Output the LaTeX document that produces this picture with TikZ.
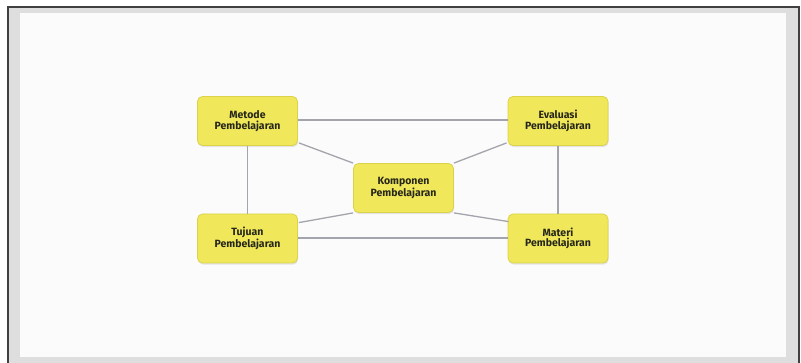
\documentclass[tikz,border=0pt]{standalone}
\usepackage{fontspec}
\setmainfont{Fira Sans}
\usetikzlibrary{shadows}
\definecolor{boxfill}{HTML}{F0E85A}
\definecolor{boxedge}{HTML}{DCD24A}
\definecolor{linkgray}{HTML}{A4A4AC}
\definecolor{bandgray}{HTML}{DEDEDE}
\definecolor{pagewhite}{HTML}{FBFBFC}
\definecolor{textdark}{HTML}{26261A}
\tikzset{
  topic/.style={draw=boxedge, line width=0.8pt, fill=boxfill, rounded corners=5pt,
    minimum width=100pt, minimum height=49pt, align=center, inner sep=0pt,
    text=textdark, font=\fontsize{10.5}{10.5}\selectfont\bfseries,
    drop shadow={opacity=0.18, shadow xshift=0.6pt, shadow yshift=-1.6pt}},
  link/.style={draw=linkgray, line width=1.3pt}
}
\begin{document}
\begin{tikzpicture}[x=1pt, y=-1pt]
  \useasboundingbox (0,0) rectangle (801,363);
  \fill[white] (0,0) rectangle (801,363);
  % frame around the slide
  \fill[bandgray] (8,7) rectangle (799,363);
  \fill[pagewhite] (20,13) rectangle (786,357);
  \draw[black!75, line width=1.2pt] (8,363) -- (8,7) -- (799,7) -- (799,363);

  % component boxes
  \node[topic] (metode)   at (247.5,121)   {Metode\\Pembelajaran};
  \node[topic] (evaluasi) at (558,121)     {Evaluasi\\Pembelajaran};
  \node[topic] (komponen) at (403.5,188)   {Komponen\\Pembelajaran};
  \node[topic] (tujuan)   at (247.5,238.5) {Tujuan\\Pembelajaran};
  \node[topic] (materi)   at (558,238.5)   {Materi\\Pembelajaran};

  % connections
  \draw[link] (metode.east |- 0,120) -- (evaluasi.west |- 0,120);
  \draw[link] (tujuan.east |- 0,238) -- (materi.west |- 0,238);
  \draw[link] (metode) -- (tujuan);
  \draw[link] (evaluasi) -- (materi);
  \path (metode.south east) ++(1,-3) coordinate (ms);
  \path (evaluasi.south west) ++(-1,-3) coordinate (es);
  \path (tujuan.north east) ++(1,9) coordinate (tn);
  \path (materi.north west) ++(1,8) coordinate (mn);
  \draw[link] (ms) -- (komponen.north west);
  \draw[link] (es) -- (komponen.north east);
  \draw[link] (tn) -- (komponen.south west);
  \draw[link] (mn) -- (komponen.south east);
\end{tikzpicture}
\end{document}
